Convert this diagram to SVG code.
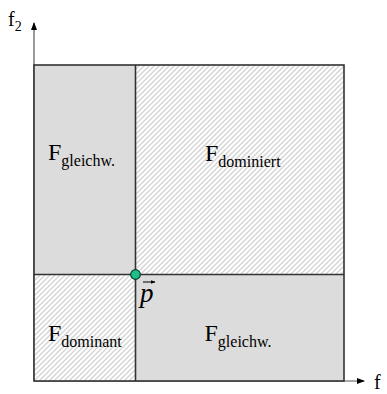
<svg xmlns="http://www.w3.org/2000/svg" width="387" height="394" viewBox="0 0 387 394">
<style>
.t{font-family:"Liberation Serif","Times New Roman",serif;fill:#000}
.big{font-size:24px}
.sub{font-size:16px}
.ax{font-size:20px}
.edge{stroke:#333;stroke-width:1.6;fill:none}
.axis{stroke:#555;stroke-width:1.2;fill:none}
.gray{fill:#dcdcdc}
.hatch{fill:url(#hatch)}
</style>
<defs>
<pattern id="hatch" patternUnits="userSpaceOnUse" width="5" height="5">
<rect width="5" height="5" fill="#fff"/>
<path d="M0,5 L5,0 M-1,1 L1,-1 M4,6 L6,4" stroke="#d4d4d4" stroke-width="1.4"/>
</pattern>
<marker id="arr" markerWidth="8" markerHeight="8" refX="7" refY="4" orient="auto" markerUnits="userSpaceOnUse">
<path d="M0,1 L8,4 L0,7 Z" fill="#000"/>
</marker>
<marker id="varr" markerWidth="5" markerHeight="5" refX="4.5" refY="2.5" orient="auto" markerUnits="userSpaceOnUse">
<path d="M0,0.5 L5,2.5 L0,4.5 Z" fill="#000"/>
</marker>
</defs>
<g id="connectors">
<line class="axis" x1="34" y1="381" x2="34" y2="23" marker-end="url(#arr)"/>
<line class="axis" x1="34" y1="381" x2="364" y2="381" marker-end="url(#arr)"/>
</g>
<g id="F_gleichw_top">
<rect class="gray" x="34" y="65" width="101.5" height="209.5"/>
<text class="t big" x="48" y="160">F<tspan class="sub" dy="6">gleichw.</tspan></text>
</g>
<g id="F_dominiert">
<rect class="hatch" x="135.5" y="65" width="208.5" height="209.5"/>
<text class="t big" x="205" y="160.5">F<tspan class="sub" dy="6">dominiert</tspan></text>
</g>
<g id="F_dominant">
<rect class="hatch" x="34" y="274.5" width="101.5" height="106.5"/>
<text class="t big" x="48" y="340.5">F<tspan class="sub" dy="6">dominant</tspan></text>
</g>
<g id="F_gleichw_bottom">
<rect class="gray" x="135.5" y="274.5" width="208.5" height="106.5"/>
<text class="t big" x="204.5" y="340.5">F<tspan class="sub" dy="6">gleichw.</tspan></text>
</g>
<g id="frame">
<rect class="edge" x="34" y="65" width="310" height="316"/>
<line class="edge" x1="135.5" y1="65" x2="135.5" y2="381"/>
<line class="edge" x1="34" y1="274.5" x2="344" y2="274.5"/>
</g>
<g id="point_p">
<circle cx="135.5" cy="274.5" r="4.8" fill="#1dbf8a" stroke="#0a3d2c" stroke-width="1.2"/>
<text class="t" x="140" y="302" font-size="27" font-style="italic">p</text>
<line x1="143" y1="282" x2="155" y2="282" stroke="#000" stroke-width="1" marker-end="url(#varr)"/>
</g>
<g id="axis_labels">
<text class="t ax" x="8" y="26">f<tspan font-size="14" dy="5">2</tspan></text>
<text class="t ax" x="374" y="389">f</text>
</g>
</svg>
